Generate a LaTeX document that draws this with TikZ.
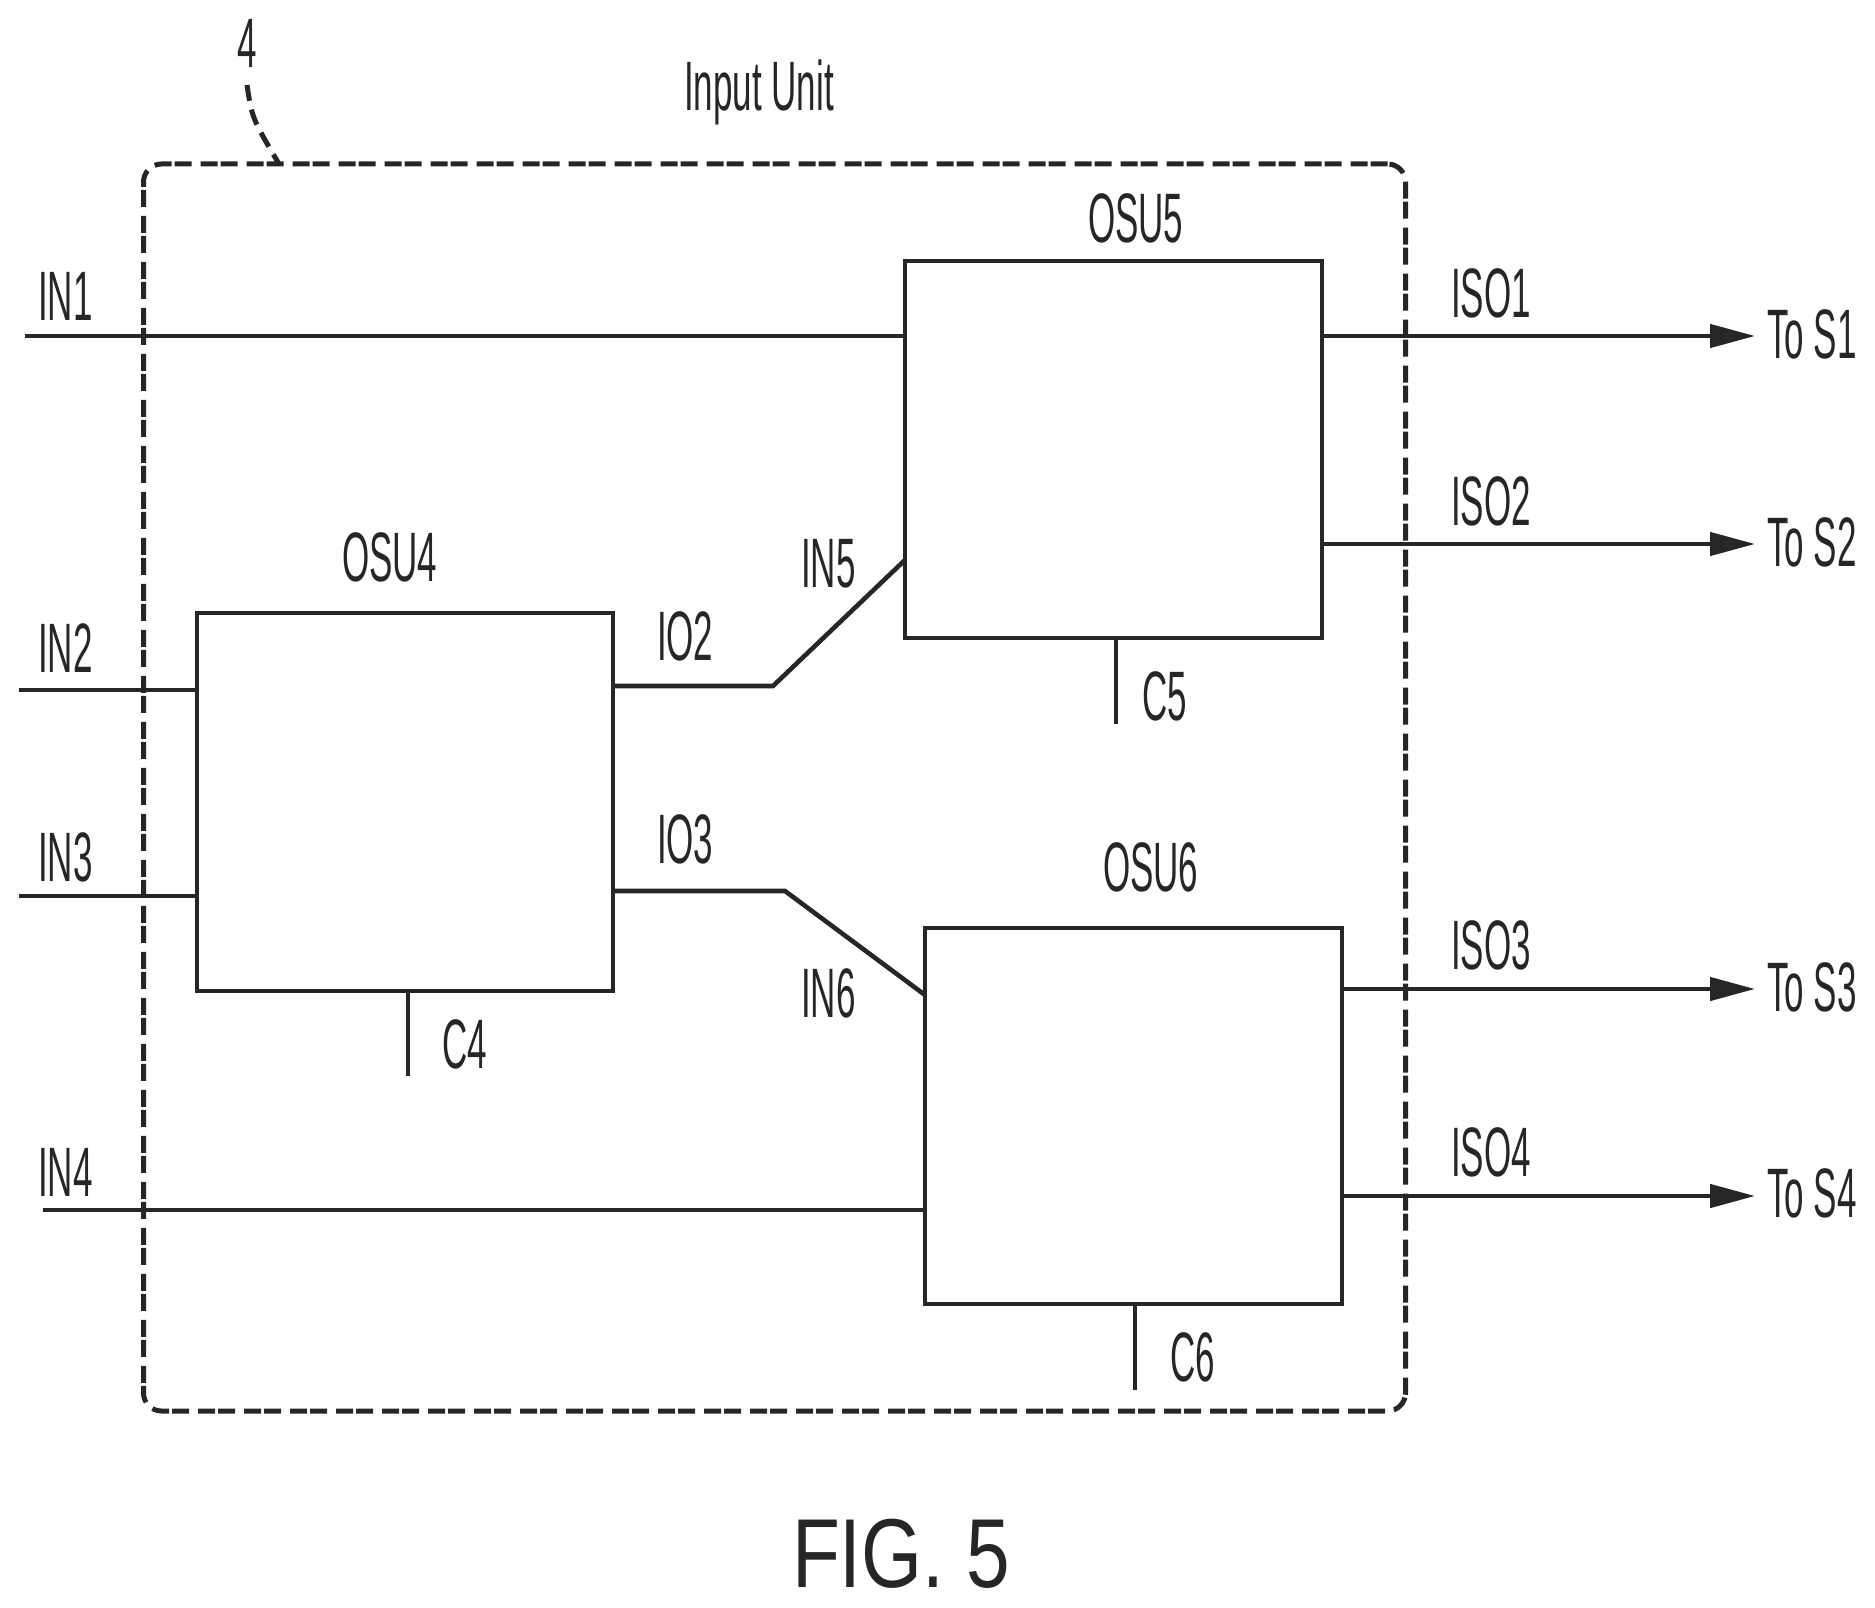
\documentclass[tikz,border=0pt]{standalone}
\usepackage{fontspec}
\usetikzlibrary{arrows.meta}
\newfontfamily\narrowf[FakeStretch=0.5]{Liberation Sans}
\newfontfamily\figf[FakeStretch=0.8]{Liberation Sans}
\tikzset{
  wire/.style={line width=4.6pt,draw=black!85},
  arrowwire/.style={wire,-{Triangle[length=45pt,width=23pt]}},
  unitbox/.style={draw=black!85,line width=4.6pt,rectangle,inner sep=0pt,outer sep=0pt,anchor=north west},
  frameline/.style={draw=black!85,line width=5pt,rectangle,rounded corners=18pt,inner sep=0pt,outer sep=0pt,anchor=north west,dash pattern=on 17pt off 3pt on 17pt off 9pt},
  leaderline/.style={draw=black!85,line width=5pt,dash pattern=on 16pt off 9pt},
  lab/.style={inner sep=0pt,outer sep=0pt,anchor=base west,font=\fontsize{70}{70}\narrowf,text=black!85},
  figlab/.style={inner sep=0pt,outer sep=0pt,anchor=base west,font=\fontsize{98}{98}\figf,text=black!85}
}
\begin{document}
\begin{tikzpicture}[x=1pt,y=-1pt]
\useasboundingbox (0,0) rectangle (1875,1608);
% frame and boxes
\node[frameline,minimum width=1262pt,minimum height=1247pt] (frame) at (143.5,164) {};
\node[unitbox,minimum width=416pt,minimum height=378pt] (osu4) at (197,613) {};
\node[unitbox,minimum width=417pt,minimum height=377pt] (osu5) at (905,261) {};
\node[unitbox,minimum width=417pt,minimum height=376pt] (osu6) at (925,928) {};
% free ends
\coordinate (in1s) at (25,336);
\coordinate (in2s) at (19,690);
\coordinate (in3s) at (19,896);
\coordinate (in4s) at (43,1210);
\coordinate (iso1e) at (1755,336);
\coordinate (iso2e) at (1755,544);
\coordinate (iso3e) at (1755,989);
\coordinate (iso4e) at (1755,1196);
\coordinate (c4e) at (408,1076);
\coordinate (c5e) at (1116,724);
\coordinate (c6e) at (1135,1390);
\coordinate (io2b) at (773,686);
\coordinate (io3b) at (785,891);
\coordinate (in5e) at (905,560);
\coordinate (in6e) at (925,995);
\coordinate (lead) at (247,85);
\coordinate (leadend) at (279,164);
% connectors
\draw[wire] (in1s) -- (in1s -| osu5.west);
\draw[wire] (in2s) -- (in2s -| osu4.west);
\draw[wire] (in3s) -- (in3s -| osu4.west);
\draw[wire] (in4s) -- (in4s -| osu6.west);
\draw[wire] (io2b -| osu4.east) -- (io2b) -- (in5e);
\draw[wire] (io3b -| osu4.east) -- (io3b) -- (in6e);
\draw[arrowwire] (iso1e -| osu5.east) -- (iso1e);
\draw[arrowwire] (iso2e -| osu5.east) -- (iso2e);
\draw[arrowwire] (iso3e -| osu6.east) -- (iso3e);
\draw[arrowwire] (iso4e -| osu6.east) -- (iso4e);
\draw[wire] (c4e |- osu4.south) -- (c4e);
\draw[wire] (c5e |- osu5.south) -- (c5e);
\draw[wire] (c6e |- osu6.south) -- (c6e);
\draw[leaderline] (lead) .. controls (252,118) .. (leadend);
% labels
\node[lab] (l4) at (237,68) {4};
\node[lab] (lunit) at (684,111) {Input Unit};
\node[lab] (lin1) at (38,320) {IN1};
\node[lab] (lin2) at (38,672) {IN2};
\node[lab] (lin3) at (38,881) {IN3};
\node[lab] (lin4) at (38,1196) {IN4};
\node[lab] (losu4) at (342,581) {OSU4};
\node[lab] (lio2) at (657,660) {IO2};
\node[lab] (lio3) at (657,863) {IO3};
\node[lab] (lin5) at (801,587) {IN5};
\node[lab] (lin6) at (801,1017) {IN6};
\node[lab] (losu5) at (1088,243) {OSU5};
\node[lab] (losu6) at (1103,891) {OSU6};
\node[lab] (lc4) at (442,1068) {C4};
\node[lab] (lc5) at (1142,720) {C5};
\node[lab] (lc6) at (1170,1381) {C6};
\node[lab] (liso1) at (1451,317) {ISO1};
\node[lab] (liso2) at (1451,525) {ISO2};
\node[lab] (liso3) at (1451,969) {ISO3};
\node[lab] (liso4) at (1451,1176) {ISO4};
\node[lab] (lto1) at (1767,358) {To S1};
\node[lab] (lto2) at (1767,566) {To S2};
\node[lab] (lto3) at (1767,1011) {To S3};
\node[lab] (lto4) at (1767,1217) {To S4};
\node[figlab] (lfig) at (792,1587) {FIG. 5};
\end{tikzpicture}
\end{document}
